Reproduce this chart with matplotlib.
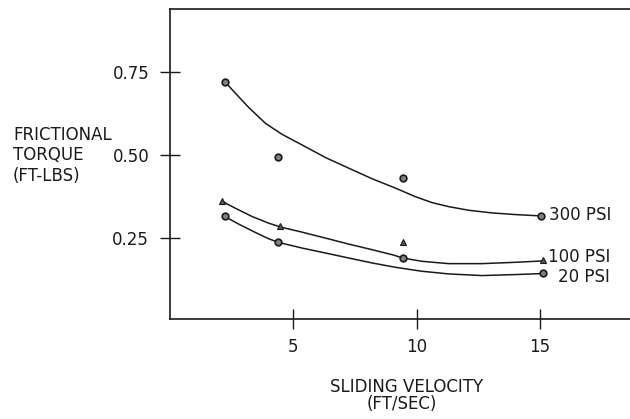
import matplotlib
matplotlib.use("Agg")
import matplotlib.pyplot as plt

# ---- data ----
# measured points (sliding velocity ft/sec, frictional torque ft-lbs)
v_300 = [2.22, 4.39, 9.45, 15.04]
t_300 = [0.721, 0.494, 0.431, 0.316]
v_100 = [2.09, 4.47, 9.43, 15.12]
t_100 = [0.361, 0.284, 0.237, 0.182]
v_20 = [2.21, 4.39, 9.43, 15.12]
t_20 = [0.316, 0.237, 0.189, 0.144]

# hand-drawn fitted curves
cv_300 = [2.22, 2.65, 3.19, 3.87, 4.54, 5.35, 6.30, 7.24, 8.19, 9.13, 9.94,
          10.62, 11.29, 12.10, 13.04, 13.99, 15.00]
ct_300 = [0.721, 0.686, 0.643, 0.595, 0.562, 0.530, 0.492, 0.460, 0.428, 0.400, 0.374,
          0.356, 0.344, 0.333, 0.325, 0.320, 0.316]
cv_100 = [2.09, 2.65, 3.33, 4.00, 4.50, 5.35, 6.30, 7.24, 8.19, 9.00, 9.44,
          10.21, 11.29, 12.64, 13.99, 15.07]
ct_100 = [0.361, 0.339, 0.314, 0.294, 0.282, 0.267, 0.249, 0.231, 0.214, 0.199, 0.189,
          0.179, 0.172, 0.172, 0.176, 0.180]
cv_20 = [2.22, 2.79, 3.46, 4.00, 4.40, 5.35, 6.30, 7.24, 8.19, 9.13, 10.21,
         11.29, 12.64, 13.99, 15.07]
ct_20 = [0.314, 0.291, 0.266, 0.247, 0.236, 0.219, 0.204, 0.189, 0.174, 0.161, 0.149,
         0.141, 0.136, 0.139, 0.142]

x_ticks = [5, 10, 15]
y_ticks = [0.25, 0.50, 0.75]
y_tick_labels = ["0.25", "0.50", "0.75"]
curve_labels = ["300 PSI", "100 PSI", "20 PSI"]

plt.rcParams['font.family'] = ['DejaVu Sans']
ink = '#1a1a1a'
fs = 12

fig = plt.figure(figsize=(6.30, 4.19), dpi=100)
ax = fig.add_axes([170/630, 1 - 319/419, (630 - 170)/630, (319 - 9)/419])
ax.set_xlim(0, 18.64)
ax.set_ylim(0.005, 0.94)

lw = 1.1
ax.plot(cv_300, ct_300, color=ink, lw=lw)
ax.plot(cv_100, ct_100, color=ink, lw=lw)
ax.plot(cv_20, ct_20, color=ink, lw=lw)

ax.plot(v_300, t_300, 'o', ms=4.8, mfc='#808080', mec=ink, mew=1.2, ls='none')
ax.plot(v_20, t_20, 'o', ms=4.8, mfc='#808080', mec=ink, mew=1.2, ls='none')
ax.plot(v_100, t_100, '^', ms=5, mfc='#555555', mec=ink, mew=0.8, ls='none')

for s in ['left', 'top', 'bottom']:
    ax.spines[s].set_linewidth(1.2)
    ax.spines[s].set_color(ink)
ax.spines['right'].set_visible(False)

ax.set_xticks(x_ticks)
ax.set_xticklabels([str(t) for t in x_ticks])
ax.set_yticks(y_ticks)
ax.set_yticklabels(y_tick_labels)
ax.tick_params(axis='both', direction='inout', length=14, width=1.0, color=ink,
               labelsize=fs, labelcolor=ink)
ax.tick_params(axis='x', pad=7)
ax.tick_params(axis='y', pad=8)

ax.text(15.35, 0.319, curve_labels[0], fontsize=fs, color=ink, va='center', ha='left')
ax.text(15.32, 0.193, curve_labels[1], fontsize=fs, color=ink, va='center', ha='left')
ax.text(15.73, 0.133, curve_labels[2], fontsize=fs, color=ink, va='center', ha='left')

fig.text(13/630, 1 - 135/419, "FRICTIONAL", fontsize=fs, color=ink, ha='left', va='center')
fig.text(13/630, 1 - 155/419, "TORQUE", fontsize=fs, color=ink, ha='left', va='center')
fig.text(13/630, 1 - 175.5/419, "(FT-LBS)", fontsize=fs, color=ink, ha='left', va='center')
fig.text(407/630, 1 - 387/419, "SLIDING VELOCITY", fontsize=fs, color=ink, ha='center', va='center')
fig.text(402/630, 1 - 404/419, "(FT/SEC)", fontsize=fs, color=ink, ha='center', va='center')

fig.savefig("out.png", dpi=100)
